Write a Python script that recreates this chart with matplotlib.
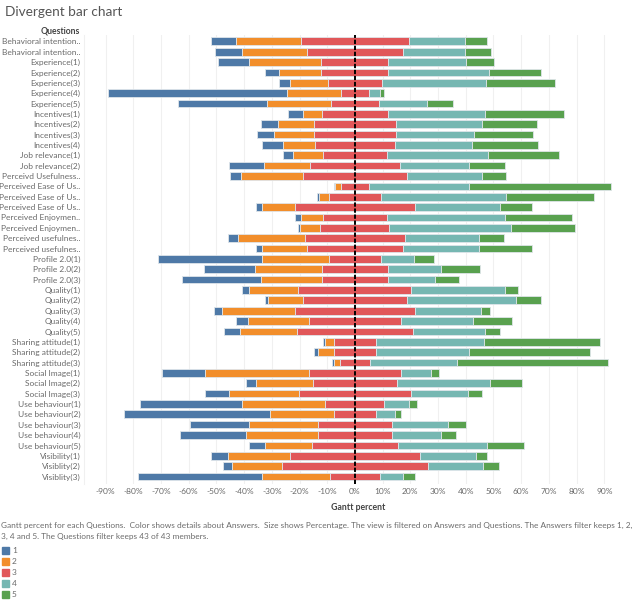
import numpy as np
import matplotlib
matplotlib.use("Agg")
import matplotlib.pyplot as plt
from matplotlib.patches import Rectangle

plt.rcParams['font.family'] = ['Lato', 'DejaVu Sans']

# question labels (as truncated in the original view)
questions = [
    "Behavioral intention..", "Behavioral intention..",
    "Experience(1)", "Experience(2)", "Experience(3)", "Experience(4)", "Experience(5)",
    "Incentives(1)", "Incentives(2)", "Incentives(3)", "Incentives(4)",
    "Job relevance(1)", "Job relevance(2)",
    "Perceivd Usefulness..",
    "Perceived Ease of Us..", "Perceived Ease of Us..", "Perceived Ease of Us..",
    "Perceived Enjoymen..", "Perceived Enjoymen..",
    "Perceived usefulnes..", "Perceived usefulnes..",
    "Profile 2.0(1)", "Profile 2.0(2)", "Profile 2.0(3)",
    "Quality(1)", "Quality(2)", "Quality(3)", "Quality(4)", "Quality(5)",
    "Sharing attitude(1)", "Sharing attitude(2)", "Sharing attitude(3)",
    "Social Image(1)", "Social Image(2)", "Social Image(3)",
    "Use behaviour(1)", "Use behaviour(2)", "Use behaviour(3)",
    "Use behaviour(4)", "Use behaviour(5)",
    "Visibility(1)", "Visiblity(2)", "Visiblity(3)",
]

# percentage of answers per question
ans1 = [8.9, 9.8, 11.2, 4.9, 4.1, 64.4, 32.3, 5.4, 6.2, 6.1, 7.8, 3.5, 12.3, 4.0,
        0.3, 0.7, 2.2, 2.1, 0.7, 3.8, 2.1, 37.5, 18.4, 28.5, 2.5, 1.1, 2.9, 4.5,
        6.0, 0.7, 1.4, 0.7, 15.6, 3.7, 8.6, 36.7, 52.7, 21.2, 23.8, 6.0, 5.9,
        3.1, 44.9]
ans2 = [23.6, 23.5, 26.3, 15.4, 13.8, 19.7, 23.2, 7.0, 13.0, 14.6, 11.5, 11.0,
        16.9, 22.5, 2.2, 3.6, 12.0, 8.0, 7.3, 23.9, 16.5, 24.3, 24.3, 22.1, 18.0,
        12.7, 26.5, 22.0, 20.6, 3.0, 5.6, 2.1, 37.5, 20.4, 25.3, 30.1, 23.0,
        25.1, 26.1, 16.9, 22.5, 18.0, 24.4]
ans3 = [38.8, 34.4, 24.2, 24.2, 19.3, 9.9, 17.0, 23.7, 29.3, 29.3, 28.7, 22.9,
        32.2, 37.5, 9.9, 18.5, 43.2, 22.8, 24.9, 36.4, 34.4, 18.5, 23.8, 23.5,
        40.8, 37.6, 43.2, 33.2, 41.6, 15.4, 15.4, 10.8, 33.0, 30.5, 40.2, 21.3,
        15.2, 26.5, 26.5, 31.0, 47.0, 52.9, 18.0]
ans4 = [20.2, 22.4, 27.9, 36.4, 37.7, 4.2, 17.4, 35.1, 31.1, 28.4, 27.9, 36.7,
        24.9, 27.0, 36.1, 45.4, 30.7, 42.6, 43.9, 26.4, 27.5, 11.9, 19.0, 17.2,
        33.9, 39.5, 23.8, 26.0, 26.3, 38.8, 33.5, 31.4, 11.0, 33.4, 20.6, 8.7,
        6.7, 20.3, 17.9, 32.2, 20.1, 19.9, 8.5]
ans5 = [8.2, 9.6, 10.1, 18.8, 24.7, 1.4, 9.6, 28.5, 20.0, 21.3, 23.9, 25.4, 13.3,
        8.6, 51.2, 31.7, 11.6, 24.3, 23.1, 9.2, 19.2, 7.5, 14.3, 8.5, 4.5, 8.8,
        3.3, 14.0, 5.2, 41.9, 43.7, 54.6, 2.7, 11.8, 5.1, 3.0, 2.3, 6.7, 5.3,
        13.4, 4.2, 5.7, 4.0]

answers = ["1", "2", "3", "4", "5"]
colors = ["#4E79A7", "#F28E2B", "#E15759", "#76B7B2", "#59A14F"]
text_color = "#6a6a6a"

W, H = 633, 600
fig = plt.figure(figsize=(W / 100, H / 100), dpi=100)
ax = fig.add_axes([83.5 / W, 1 - 484 / H, (632 - 83.5) / W, (484 - 35) / H])

data = np.array([ans1, ans2, ans3, ans4, ans5])
ys = np.arange(len(questions))
# divergent layout: answer 3 centred on zero
left = -(data[0] + data[1] + data[2] / 2)
for vals, col in zip(data, colors):
    ax.barh(ys, vals, left=left, height=0.74, color=col,
            edgecolor="#dfe5ea", linewidth=0.6, zorder=3)
    left = left + vals

ax.axvline(0, color="black", linestyle=(0, (2.2, 0.9)), linewidth=1.4, zorder=4)

ax.set_xlim(-98, 100)
ax.set_ylim(len(questions) - 0.27, -0.61)
ticks = np.arange(-90, 100, 10)
ax.set_xticks(ticks, [f"{t}%" for t in ticks])
ax.set_yticks(ys, questions)
ax.tick_params(axis="both", length=0, labelsize=6, labelcolor=text_color)
ax.tick_params(axis="y", pad=2.3)
ax.tick_params(axis="x", pad=3)
ax.grid(axis="x", color="#f0f0f0", linewidth=0.8, zorder=0)
for side in ["top", "right", "bottom"]:
    ax.spines[side].set_visible(False)
ax.spines["left"].set_color("#f0f0f0")
ax.set_xlabel("Gantt percent", fontsize=6.3, fontweight="bold",
              color="#444444", labelpad=6)

fig.text(5 / W, 1 - 12 / H, "Divergent bar chart", fontsize=9.8,
         color="#555555", va="center", ha="left")
fig.text(80 / W, 1 - 31 / H, "Questions", fontsize=6.2, fontweight="bold",
         color="#444444", va="center", ha="right")

caption = [
    "Gantt percent for each Questions.  Color shows details about Answers.  "
    "Size shows Percentage. The view is filtered on Answers and Questions. "
    "The Answers filter keeps 1, 2,",
    "3, 4 and 5. The Questions filter keeps 43 of 43 members.",
]
for i, line in enumerate(caption):
    fig.text(1 / W, 1 - (525.5 + 10.5 * i) / H, line, fontsize=5.95,
             color=text_color, va="center", ha="left")

for i, (lab, col) in enumerate(zip(answers, colors)):
    yc = 550.5 + 11 * i
    fig.add_artist(Rectangle((2 / W, 1 - (yc + 3.2) / H), 6.5 / W, 6.5 / H,
                             transform=fig.transFigure, color=col))
    fig.text(12 / W, 1 - yc / H, lab, fontsize=6, color=text_color,
             va="center", ha="left")

fig.savefig("out.png", dpi=100)
